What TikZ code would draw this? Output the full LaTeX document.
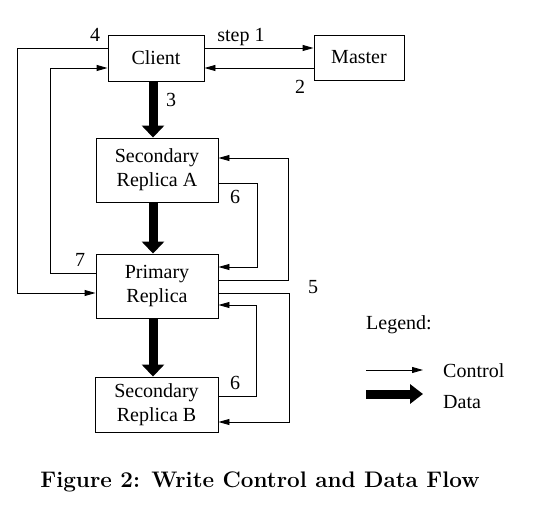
\documentclass[tikz,border=0pt]{standalone}
\usepackage{fontspec}
\newfontfamily\tnr{Liberation Serif}
\usetikzlibrary{arrows.meta}
\tikzset{
  box/.style={draw, line width=0.9pt, rectangle, inner sep=0pt, align=center, font=\tnr\fontsize{20}{24}\selectfont},
  ctrl/.style={line width=0.9pt, -{Triangle[length=11pt,width=6pt]}},
  dataarrow/.style={line width=9pt, -{Triangle[length=12pt,width=22pt]}},
  lbl/.style={font=\tnr\fontsize{20}{24}\selectfont, inner sep=0pt},
}
\begin{document}
\begin{tikzpicture}[x=1pt,y=-1pt]
\useasboundingbox (0,0) rectangle (536,513);
\node[box, minimum width=96pt, minimum height=46pt] (client) at (156,58) {Client};
\node[box, minimum width=90pt, minimum height=45pt] (master) at (359,57.5) {Master};
\node[box, minimum width=122pt, minimum height=64pt] (secA) at (157,170) {Secondary\\Replica A};
\node[box, minimum width=122pt, minimum height=64pt] (prim) at (157,286) {Primary\\Replica};
\node[box, minimum width=123pt, minimum height=55pt] (secB) at (156.5,404.5) {Secondary\\Replica B};

% data flow
\draw[dataarrow] (client.south -| 153,0) -- (secA.north -| 153,0);
\draw[dataarrow] (secA.south -| 153,0) -- (prim.north -| 153,0);
\draw[dataarrow] (prim.south -| 153,0) -- (secB.north -| 153,0);

% control flow
\draw[ctrl] (client.east |- 0,48) -- (master.west |- 0,48);
\draw[ctrl] (master.west |- 0,68) -- (client.east |- 0,68);
\draw[ctrl] (client.west |- 0,48) -- ++(-90,0) |- (prim.west |- 0,293);
\draw[ctrl] (prim.west |- 0,273) -- ++(-45,0) |- (client.west |- 0,68);
\draw[ctrl] (prim.east |- 0,280) -- ++(70,0) |- (secA.east |- 0,158);
\draw[ctrl] (prim.east |- 0,293) -- ++(71,0) |- (secB.east |- 0,422);
\draw[ctrl] (secA.east |- 0,183) -- ++(39,0) |- (prim.east |- 0,267);
\draw[ctrl] (secB.east |- 0,396) -- ++(38,0) |- (prim.east |- 0,305);

% labels
\node[lbl] (l4) at (95,35) {4};
\node[lbl] (l1) at (241,37) {step 1};
\node[lbl] (l2) at (300,87) {2};
\node[lbl] (l3) at (171,100) {3};
\node[lbl] (l6a) at (235,197) {6};
\node[lbl] (l7) at (80,260) {7};
\node[lbl] (l5) at (313,287) {5};
\node[lbl] (l6b) at (235,383) {6};

% legend
\node[lbl] (leg) at (399,325) {Legend:};
\coordinate (c1) at (366,370);
\coordinate (c2) at (423,370);
\draw[ctrl] (c1) -- (c2);
\node[lbl, anchor=west] (ctl) at (443,371) {Control};
\coordinate (d1) at (366,394);
\coordinate (d2) at (423,394);
\draw[line width=9pt, -{Triangle[length=13pt,width=19pt]}] (d1) -- (d2);
\node[lbl, anchor=west] (dat) at (443,402) {Data};

% caption
\node[inner sep=0pt, font=\bfseries\fontsize{22.5}{26}\selectfont] (cap) at (260,482) {Figure 2: Write Control and Data Flow};
\end{tikzpicture}
\end{document}
